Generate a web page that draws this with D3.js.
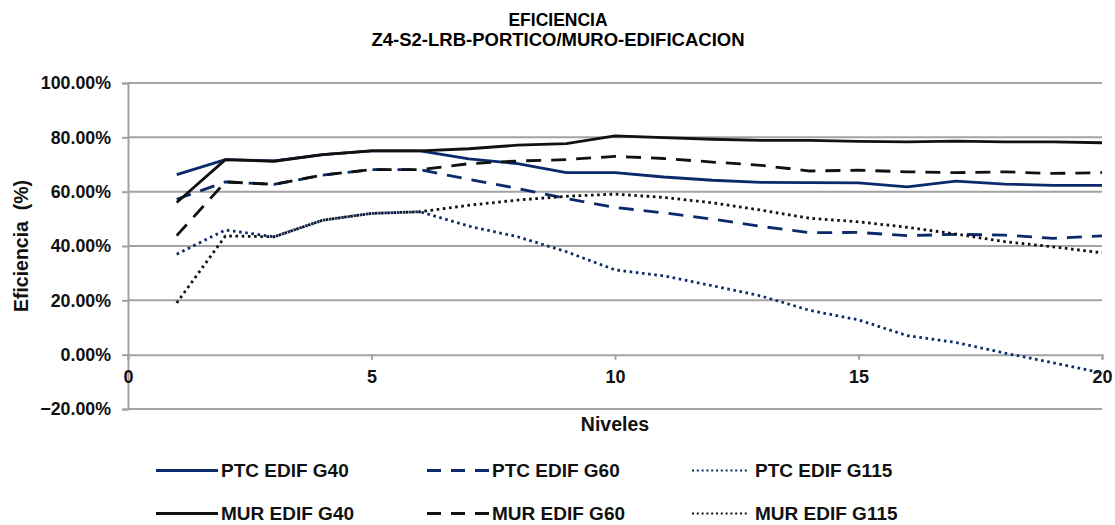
<!DOCTYPE html>
<html>
<head>
<meta charset="utf-8">
<script src="https://cdn.jsdelivr.net/npm/d3@7"></script>
<style>
  html, body { margin: 0; padding: 0; background: #ffffff; }
  svg { display: block; font-family: "Liberation Sans", Arial, sans-serif; font-weight: bold; }
</style>
</head>
<body>
<svg id="chart" width="1115" height="525"></svg>
<script>
// Niveles (x) y eficiencias (%) por serie
const levels = [1,2,3,4,5,6,7,8,9,10,11,12,13,14,15,16,17,18,19,20];

const ptcG40  = [66.3,71.8,71.3,73.6,75.0,75.0,72.1,70.3,67.0,67.0,65.4,64.2,63.4,63.3,63.2,61.8,63.9,62.8,62.3,62.3];
const ptcG60  = [57.2,63.6,62.7,66.1,68.1,68.1,64.5,61.2,57.5,54.2,52.2,49.9,47.2,44.9,45.0,43.8,44.3,44.0,42.8,43.7];
const ptcG115 = [37.0,45.9,43.4,49.5,52.0,52.6,47.3,43.4,37.9,31.2,29.0,25.4,21.6,16.3,12.8,7.0,4.5,0.6,-3.0,-6.7];
const murG40  = [56.0,71.8,71.2,73.6,75.0,75.0,75.8,77.1,77.7,80.5,79.9,79.3,78.9,78.9,78.5,78.3,78.6,78.3,78.3,78.0];
const murG60  = [43.8,63.6,62.7,66.1,68.1,68.1,70.3,71.3,71.8,73.0,72.2,70.9,69.7,67.6,67.9,67.3,67.0,67.3,66.7,67.0];
const murG115 = [19.0,43.7,43.4,49.5,52.0,52.6,55.0,56.9,58.3,59.1,57.9,55.9,53.2,50.2,48.9,46.9,44.4,41.6,39.7,37.5];

const seriesNames = ["PTC EDIF G40","PTC EDIF G60","PTC EDIF G115","MUR EDIF G40","MUR EDIF G60","MUR EDIF G115"];
const seriesValues = [ptcG40, ptcG60, ptcG115, murG40, murG60, murG115];

const yTicks = [-20, 0, 20, 40, 60, 80, 100];
const xTicks = [0, 5, 10, 15, 20];

const titleLines = ["EFICIENCIA", "Z4-S2-LRB-PORTICO/MURO-EDIFICACION"];
const xTitle = "Niveles";
const yTitle = "Eficiencia  (%)";

// Estilos de trazo
const NAVY = "#0b2a6b";
const BLACK = "#111111";
const GRID = "#a3a3a3";
const styles = [
  { color: NAVY,  dash: null },
  { color: NAVY,  dash: "15,10" },
  { color: NAVY,  dash: "2.6,3.6" },
  { color: BLACK, dash: null },
  { color: BLACK, dash: "15,10" },
  { color: BLACK, dash: "2.6,3.6" }
];
const legendDash = [null, "14,10", "2,2.8", null, "14,10", "2,2.8"];

const svg = d3.select("#chart");

const x = d3.scaleLinear().domain([0, 20]).range([128, 1102]);
const y = d3.scaleLinear().domain([-20, 100]).range([409, 83]);

// Título
svg.append("g").selectAll("text").data(titleLines).join("text")
  .attr("x", 558)
  .attr("y", (d, i) => 26 + i * 19.5)
  .attr("text-anchor", "middle")
  .attr("font-size", (d, i) => i === 0 ? 17.5 : 18.5)
  .attr("fill", "#000")
  .text(d => d);

// Líneas de cuadrícula horizontales
svg.append("g").selectAll("line").data(yTicks.filter(t => t !== 0)).join("line")
  .attr("x1", x(0)).attr("x2", x(20))
  .attr("y1", d => y(d)).attr("y2", d => y(d))
  .attr("stroke", GRID).attr("stroke-width", 2);

// Eje Y
const yAxis = d3.axisLeft(y).tickValues(yTicks).tickSize(6).tickPadding(11)
  .tickFormat(d => d3.format(".2f")(d) + "%");
const gy = svg.append("g").attr("transform", `translate(${x(0)},0)`).call(yAxis);
gy.select(".domain").attr("stroke", GRID).attr("stroke-width", 2);
gy.selectAll(".tick line").attr("stroke", GRID).attr("stroke-width", 2);
gy.selectAll(".tick text")
  .attr("font-family", "'Liberation Sans', Arial, sans-serif")
  .attr("font-weight", "bold").attr("font-size", 17.8).attr("fill", "#111");

// Eje X en 0%
const xAxis = d3.axisBottom(x).tickValues(xTicks).tickSize(5).tickPadding(11).tickFormat(d3.format("d"));
const gx = svg.append("g").attr("transform", `translate(0,${y(0)})`).call(xAxis);
gx.select(".domain").attr("stroke", GRID).attr("stroke-width", 2);
gx.selectAll(".tick line").attr("stroke", GRID).attr("stroke-width", 2);
gx.selectAll(".tick text")
  .attr("font-family", "'Liberation Sans', Arial, sans-serif")
  .attr("font-weight", "bold").attr("font-size", 18).attr("fill", "#111");

// Títulos de ejes
svg.append("text")
  .attr("x", 615).attr("y", 431)
  .attr("text-anchor", "middle").attr("font-size", 19.5).attr("fill", "#111")
  .text(xTitle);

svg.append("text")
  .attr("transform", "translate(28,246) rotate(-90)")
  .attr("text-anchor", "middle").attr("font-size", 19.5).attr("fill", "#111")
  .style("white-space", "pre")
  .text(yTitle);

// Series
const line = d3.line()
  .x((d, i) => x(levels[i]))
  .y(d => y(d));

const gs = svg.append("g");
seriesValues.forEach((vals, k) => {
  gs.append("path")
    .datum(vals)
    .attr("d", line)
    .attr("fill", "none")
    .attr("stroke", styles[k].color)
    .attr("stroke-width", 2.8)
    .attr("stroke-linejoin", "round")
    .attr("stroke-dasharray", styles[k].dash);
});

// Leyenda
const legendCols = [
  { lx1: 156, lx2: 218, tx: 221 },
  { lx1: 427, lx2: 489, tx: 492 },
  { lx1: 692, lx2: 749, tx: 755 }
];
const legendRows = [470.5, 513.5];

const gl = svg.append("g");
seriesNames.forEach((name, k) => {
  const col = legendCols[k % 3];
  const ry = legendRows[Math.floor(k / 3)];
  gl.append("line")
    .attr("x1", col.lx1).attr("x2", col.lx2)
    .attr("y1", ry).attr("y2", ry)
    .attr("stroke", styles[k].color)
    .attr("stroke-width", legendDash[k] && legendDash[k].startsWith("2,") ? 2 : 2.8)
    .attr("stroke-dasharray", legendDash[k]);
  gl.append("text")
    .attr("x", col.tx).attr("y", ry + 6.8)
    .attr("font-size", 19).attr("fill", "#111")
    .text(name);
});
</script>
</body>
</html>
